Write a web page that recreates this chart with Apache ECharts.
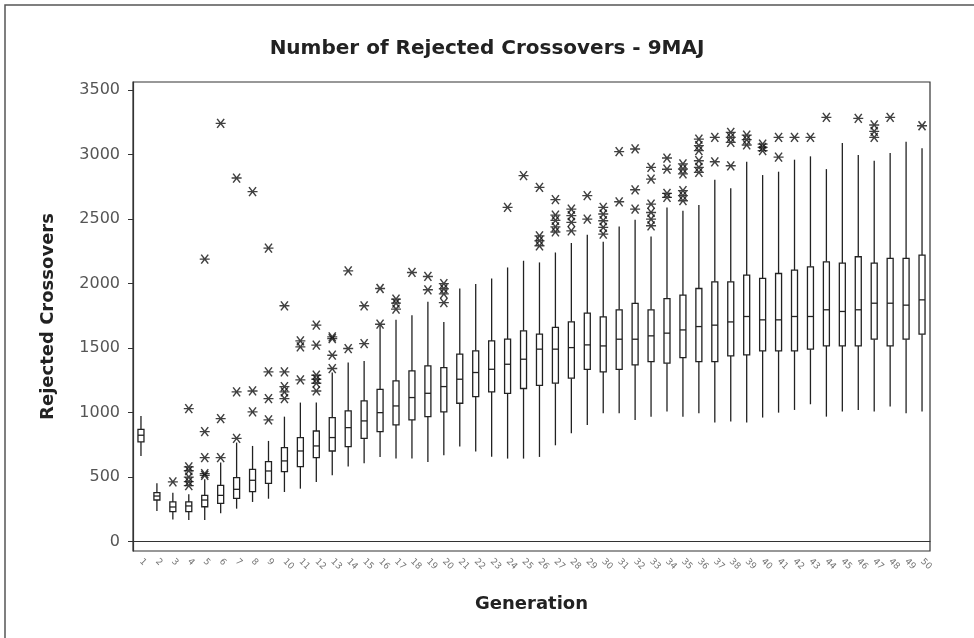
<!DOCTYPE html>
<html>
<head>
<meta charset="utf-8">
<title>Number of Rejected Crossovers - 9MAJ</title>
<script src="https://cdn.jsdelivr.net/npm/echarts@6/dist/echarts.min.js"></script>
<style>
  html, body { margin: 0; padding: 0; background: #fff; }
  #chart { width: 974px; height: 638px; }
</style>
</head>
<body>
<div id="chart"></div>
<script>
// generations on the x axis
const generations = ['1','2','3','4','5','6','7','8','9','10','11','12','13','14','15','16','17','18','19','20',
  '21','22','23','24','25','26','27','28','29','30','31','32','33','34','35','36','37','38','39','40',
  '41','42','43','44','45','46','47','48','49','50'];

// box statistics
const whiskerLow = [664, 238, 173, 168, 168, 220, 256, 308, 333, 385, 411, 463, 514, 582, 608, 657, 644, 644, 618, 670,
  737, 698, 659, 644, 644, 657, 747, 840, 905, 995, 995, 944, 969, 1008, 969, 995, 923, 931, 923, 962,
  1000, 1021, 1065, 969, 1008, 1021, 1008, 1047, 995, 1008];
const q1 = [773, 323, 233, 233, 271, 297, 336, 388, 452, 543, 582, 651, 703, 737, 801, 853, 905, 944, 969, 1006,
  1073, 1124, 1161, 1150, 1187, 1212, 1228, 1267, 1336, 1316, 1336, 1370, 1396, 1383, 1427, 1396, 1396, 1440, 1448, 1479,
  1479, 1479, 1492, 1517, 1517, 1517, 1569, 1517, 1569, 1608];
const median = [825, 354, 269, 277, 323, 359, 406, 476, 548, 626, 703, 742, 807, 884, 936, 1000, 1052, 1117, 1150, 1202,
  1259, 1311, 1336, 1375, 1414, 1492, 1492, 1504, 1525, 1517, 1569, 1569, 1595, 1616, 1641, 1667, 1678, 1703, 1745, 1719,
  1719, 1745, 1745, 1797, 1784, 1797, 1848, 1848, 1833, 1874];
const q3 = [871, 380, 308, 308, 359, 437, 496, 561, 620, 729, 807, 858, 962, 1013, 1091, 1181, 1246, 1323, 1362, 1349,
  1453, 1479, 1556, 1569, 1634, 1608, 1660, 1704, 1771, 1742, 1797, 1846, 1797, 1884, 1910, 1962, 2014, 2014, 2065, 2040,
  2078, 2104, 2130, 2169, 2159, 2208, 2159, 2195, 2195, 2220];
const whiskerHigh = [975, 452, 380, 367, 483, 613, 768, 742, 781, 969, 1078, 1078, 1311, 1388, 1401, 1678, 1719, 1755, 1859, 1703,
  1962, 1996, 2040, 2125, 2177, 2164, 2241, 2314, 2378, 2324, 2443, 2495, 2365, 2590, 2564, 2608, 2805, 2738, 2944, 2841,
  2867, 2960, 2986, 2887, 3089, 2996, 2952, 3012, 3099, 3048];

// outliers as [generation, value]
const outliers = [
  ['3', 463],
  ['4', 1031], ['4', 580], ['4', 550], ['4', 500], ['4', 465], ['4', 435],
  ['5', 2190], ['5', 853], ['5', 651], ['5', 527], ['5', 514],
  ['6', 3242], ['6', 954], ['6', 651],
  ['7', 2818], ['7', 1161], ['7', 801],
  ['8', 2712], ['8', 1168], ['8', 1006],
  ['9', 2275], ['9', 1316], ['9', 1109], ['9', 944],
  ['10', 1828], ['10', 1316], ['10', 1202], ['10', 1161], ['10', 1109],
  ['11', 1556], ['11', 1510], ['11', 1254],
  ['12', 1678], ['12', 1523], ['12', 1290], ['12', 1259], ['12', 1228], ['12', 1168],
  ['13', 1587], ['13', 1574], ['13', 1445], ['13', 1342],
  ['14', 2099], ['14', 1497],
  ['15', 1828], ['15', 1535],
  ['16', 1962], ['16', 1685],
  ['17', 1879], ['17', 1848], ['17', 1802],
  ['18', 2086],
  ['19', 2055], ['19', 1952],
  ['20', 2000], ['20', 1960], ['20', 1920], ['20', 1853],
  ['24', 2590],
  ['25', 2836],
  ['26', 2745], ['26', 2370], ['26', 2332], ['26', 2293],
  ['27', 2650], ['27', 2530], ['27', 2490], ['27', 2440], ['27', 2400],
  ['28', 2577], ['28', 2526], ['28', 2474], ['28', 2409],
  ['29', 2681], ['29', 2500],
  ['30', 2590], ['30', 2539], ['30', 2487], ['30', 2435], ['30', 2383],
  ['31', 3022], ['31', 2634],
  ['32', 3043], ['32', 2727], ['32', 2577],
  ['33', 2900], ['33', 2810], ['33', 2616], ['33', 2551], ['33', 2500], ['33', 2448],
  ['34', 2973], ['34', 2886], ['34', 2699], ['34', 2668],
  ['35', 2927], ['35', 2888], ['35', 2850], ['35', 2720], ['35', 2681], ['35', 2642],
  ['36', 3120], ['36', 3069], ['36', 3030], ['36', 2952], ['36', 2900], ['36', 2862],
  ['37', 3133], ['37', 2944],
  ['38', 3172], ['38', 3133], ['38', 3094], ['38', 2913],
  ['39', 3151], ['39', 3115], ['39', 3074],
  ['40', 3081], ['40', 3056], ['40', 3030],
  ['41', 3133], ['41', 2980],
  ['42', 3133],
  ['43', 3133],
  ['44', 3288],
  ['46', 3280],
  ['47', 3229], ['47', 3180], ['47', 3133],
  ['48', 3288],
  ['50', 3223]
];

const boxData = generations.map((g, i) => [i, whiskerLow[i], q1[i], median[i], q3[i], whiskerHigh[i]]);

const lineColor = '#222';

// box + whiskers without end caps
function renderBox(params, api) {
  const idx = api.value(0);
  const low = api.coord([idx, api.value(1)]);
  const b1 = api.coord([idx, api.value(2)]);
  const med = api.coord([idx, api.value(3)]);
  const b3 = api.coord([idx, api.value(4)]);
  const high = api.coord([idx, api.value(5)]);
  const half = 3;
  const st = { stroke: lineColor, lineWidth: 1.3, fill: null };
  return {
    type: 'group',
    children: [
      { type: 'line', shape: { x1: low[0], y1: low[1], x2: b1[0], y2: b1[1] }, style: st },
      { type: 'line', shape: { x1: b3[0], y1: b3[1], x2: high[0], y2: high[1] }, style: st },
      { type: 'rect', shape: { x: b3[0] - half, y: b3[1], width: half * 2, height: b1[1] - b3[1] },
        style: { stroke: lineColor, lineWidth: 1.3, fill: '#fff' } },
      { type: 'line', shape: { x1: med[0] - half, y1: med[1], x2: med[0] + half, y2: med[1] }, style: st }
    ]
  };
}

const chart = echarts.init(document.getElementById('chart'), null, { renderer: 'canvas' });

const options = {
  backgroundColor: '#fff',
  animation: false,
  title: {
    text: 'Number of Rejected Crossovers - 9MAJ',
    left: 'center',
    top: 34,
    textStyle: { fontFamily: 'DejaVu Sans', fontWeight: 'bold', fontSize: 20, color: '#222' }
  },
  graphic: [
    {
      type: 'rect',
      shape: { x: 5, y: 5, width: 1000, height: 1000 },
      style: { fill: null, stroke: '#555', lineWidth: 1.5 },
      silent: true
    }
  ],
  grid: {
    left: 133,
    right: 44,
    top: 82,
    bottom: 87,
    show: true,
    borderColor: '#333',
    borderWidth: 1.2,
    backgroundColor: '#fff'
  },
  xAxis: {
    type: 'category',
    data: generations,
    boundaryGap: true,
    name: 'Generation',
    nameLocation: 'middle',
    nameGap: 44,
    nameTextStyle: { fontFamily: 'DejaVu Sans', fontWeight: 'bold', fontSize: 18, color: '#222' },
    axisLine: { lineStyle: { color: '#333', width: 1.2 } },
    axisTick: { alignWithLabel: true, length: 5, lineStyle: { color: '#333' } },
    axisLabel: {
      interval: 0,
      rotate: -45,
      fontFamily: 'DejaVu Sans',
      fontSize: 9,
      color: '#777',
      margin: 9
    },
    splitLine: { show: false }
  },
  yAxis: {
    type: 'value',
    min: -72,
    max: 3562,
    splitNumber: 7,
    minInterval: 500,
    maxInterval: 500,
    name: 'Rejected Crossovers',
    nameLocation: 'middle',
    nameGap: 76,
    nameTextStyle: { fontFamily: 'DejaVu Sans', fontWeight: 'bold', fontSize: 18, color: '#222' },
    axisLine: { show: true, lineStyle: { color: '#333', width: 1.2 } },
    axisTick: { show: true, length: 5, lineStyle: { color: '#333' } },
    axisLabel: {
      showMinLabel: false,
      showMaxLabel: false,
      formatter: (v) => String(v),
      fontFamily: 'DejaVu Sans',
      fontSize: 16,
      color: '#555',
      margin: 13
    },
    splitLine: { show: false }
  },
  series: [
    {
      name: 'boxes',
      type: 'custom',
      renderItem: renderBox,
      data: boxData,
      encode: { x: 0, y: [1, 2, 3, 4, 5] },
      z: 2
    },
    {
      name: 'outliers',
      type: 'scatter',
      data: outliers,
      symbol: 'path://M0,5 L10,5 M1.5,1 L8.5,9 M8.5,1 L1.5,9',
      symbolSize: [10, 9],
      itemStyle: { color: 'rgba(0,0,0,0)', borderColor: '#111', borderWidth: 1.4 },
      z: 3
    }
  ]
};

chart.setOption(options);

window.addEventListener('resize', () => {
  chart.resize();
});
</script>
</body>
</html>
